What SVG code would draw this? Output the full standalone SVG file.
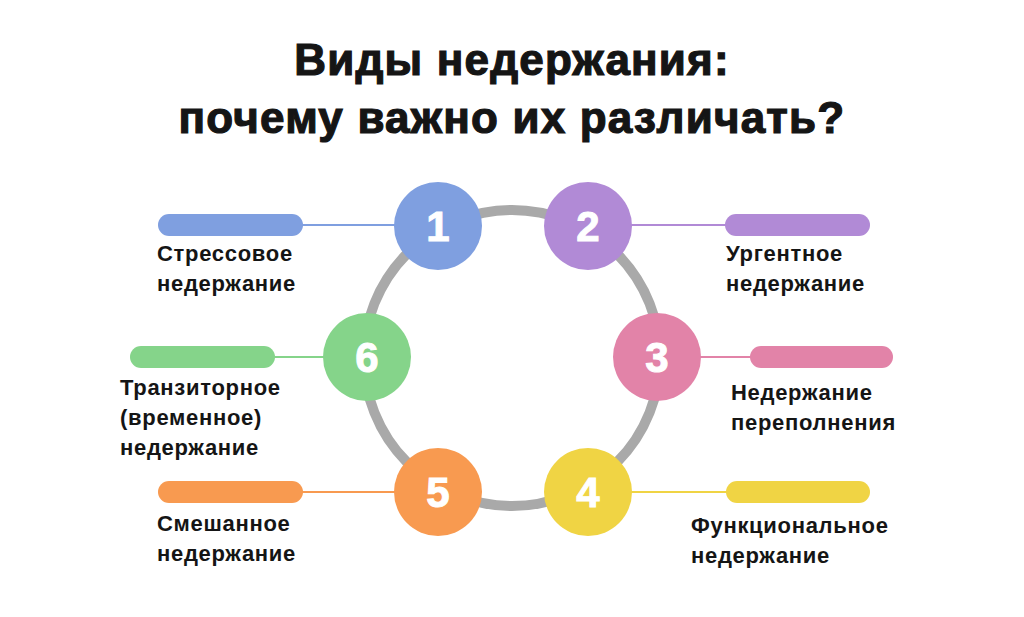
<svg xmlns="http://www.w3.org/2000/svg" width="1024" height="617" viewBox="0 0 1024 617">
<style>
.t{font-family:"Liberation Sans",Arial,sans-serif;font-weight:bold;fill:#151515}
.title{font-size:44px;text-anchor:middle;letter-spacing:1.2px;stroke:#151515;stroke-width:1.2}
.lab{font-size:22px;letter-spacing:0.7px}
.num{font-family:"Liberation Sans",Arial,sans-serif;font-weight:bold;font-size:42px;fill:#fff;text-anchor:middle;stroke:#fff;stroke-width:1}
.ln{stroke-width:2;fill:none}
</style>
<rect width="1024" height="617" fill="#fff"/>
<text class="t title" x="512" y="75">Виды недержания:</text>
<text class="t title" x="512" y="133">почему важно их различать?</text>
<g id="connectors">
<circle cx="512" cy="358" r="148" fill="none" stroke="#a9a9a9" stroke-width="10"/>
<line class="ln" x1="300" y1="225" x2="400" y2="225" stroke="#7f9fe0"/>
<line class="ln" x1="625" y1="225" x2="728" y2="225" stroke="#b18ad6"/>
<line class="ln" x1="695" y1="357" x2="752" y2="357" stroke="#e283a8"/>
<line class="ln" x1="625" y1="492" x2="728" y2="492" stroke="#f0d444"/>
<line class="ln" x1="300" y1="492" x2="400" y2="492" stroke="#f89a50"/>
<line class="ln" x1="272" y1="357" x2="330" y2="357" stroke="#85d48a"/>
</g>
<g id="n1"><rect x="158" y="214" width="145" height="22" rx="11" fill="#7f9fe0"/><circle cx="438" cy="226" r="44" fill="#7f9fe0"/><text class="num" x="438" y="241">1</text><text class="t lab" x="157" y="261">Стрессовое</text><text class="t lab" x="157" y="291">недержание</text></g>
<g id="n2"><rect x="725" y="214" width="145" height="22" rx="11" fill="#b18ad6"/><circle cx="588" cy="226" r="44" fill="#b18ad6"/><text class="num" x="588" y="241">2</text><text class="t lab" x="726" y="261">Ургентное</text><text class="t lab" x="726" y="291">недержание</text></g>
<g id="n3"><rect x="750" y="346" width="143" height="22" rx="11" fill="#e283a8"/><circle cx="657" cy="357" r="44" fill="#e283a8"/><text class="num" x="657" y="372">3</text><text class="t lab" x="731" y="400">Недержание</text><text class="t lab" x="731" y="430">переполнения</text></g>
<g id="n4"><rect x="726" y="481" width="144" height="22" rx="11" fill="#f0d444"/><circle cx="588" cy="492" r="44" fill="#f0d444"/><text class="num" x="588" y="507">4</text><text class="t lab" x="691" y="533">Функциональное</text><text class="t lab" x="691" y="563">недержание</text></g>
<g id="n5"><rect x="158" y="481" width="145" height="22" rx="11" fill="#f89a50"/><circle cx="438" cy="492" r="44" fill="#f89a50"/><text class="num" x="438" y="507">5</text><text class="t lab" x="157" y="531">Смешанное</text><text class="t lab" x="157" y="561">недержание</text></g>
<g id="n6"><rect x="130" y="346" width="145" height="22" rx="11" fill="#85d48a"/><circle cx="367" cy="357" r="44" fill="#85d48a"/><text class="num" x="367" y="372">6</text><text class="t lab" x="120" y="395">Транзиторное</text><text class="t lab" x="120" y="425">(временное)</text><text class="t lab" x="120" y="455">недержание</text></g>
</svg>
